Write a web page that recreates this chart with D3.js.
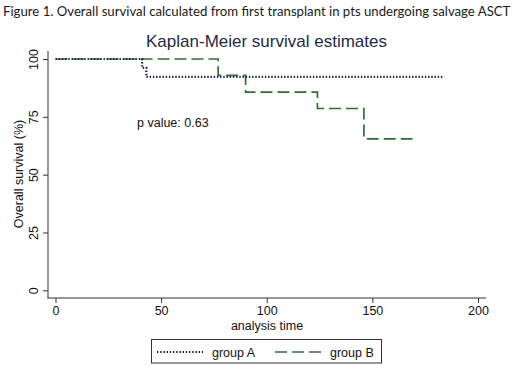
<!DOCTYPE html>
<html><head><meta charset="utf-8">
<script src="https://cdn.jsdelivr.net/npm/d3@7"></script>
<style>html,body{margin:0;padding:0;background:#fff;}svg{display:block;}</style>
</head><body>
<script>
const caption = "Figure 1. Overall survival calculated from first transplant in pts undergoing salvage ASCT";
const title = "Kaplan-Meier survival estimates";
const xTicks = [0, 50, 100, 150, 200];
const yTicks = [0, 25, 50, 75, 100];
const groupNames = ["group A", "group B"];
const groupATime = [0, 41, 43, 184];
const groupASurv = [100, 96.2, 92.3, 92.3];
const groupBTime = [0, 77, 90, 124, 146, 169];
const groupBSurv = [100, 92.9, 85.7, 78.6, 65.5, 65.5];
const pText = "p value: 0.63";

const W = 520, H = 368;
const svg = d3.select("body").append("svg").attr("width", W).attr("height", H);
const font = "'Liberation Sans', Arial, sans-serif";

const x = d3.scaleLinear().domain([0, 200]).range([55.5, 478]);
const y = d3.scaleLinear().domain([0, 100]).range([290.3, 59]);

// caption (font size fitted to the width used in the reference)
const cap = svg.append("text").attr("x", 3).attr("y", 16).attr("font-family", "Lato, 'Open Sans', sans-serif")
  .attr("font-size", 14).attr("fill", "#1a1a1a").text(caption);
const natural = cap.node().getComputedTextLength();
cap.attr("font-size", Math.min(14, 14 * 508 / natural));

// title
svg.append("text").attr("x", 266.5).attr("y", 47).attr("text-anchor", "middle")
  .attr("font-family", font).attr("font-size", 17).attr("fill", "#1f2a44").text(title);

// axis lines
svg.append("line").attr("x1", 48).attr("x2", 48).attr("y1", 51).attr("y2", 298.5).attr("stroke", "#333").attr("stroke-width", 1);
svg.append("line").attr("x1", 47.5).attr("x2", 486).attr("y1", 298).attr("y2", 298).attr("stroke", "#333").attr("stroke-width", 1);

// x axis
const gx = svg.append("g").attr("transform", "translate(0,298)")
  .call(d3.axisBottom(x).tickValues(xTicks).tickSize(5).tickPadding(3));
gx.select(".domain").remove();
gx.selectAll("line").attr("stroke", "#333");
gx.selectAll("text").attr("font-family", font).attr("font-size", 12.5).attr("fill", "#111");

// y axis
const gy = svg.append("g").attr("transform", "translate(48,0)")
  .call(d3.axisLeft(y).tickValues(yTicks).tickSize(5).tickPadding(0));
gy.select(".domain").remove();
gy.selectAll("line").attr("stroke", "#333");
gy.selectAll("text").attr("font-family", font).attr("font-size", 12.5).attr("fill", "#111")
  .attr("text-anchor", "middle").attr("x", 0).attr("dy", 0)
  .attr("transform", "translate(-10,0) rotate(-90)");

// axis titles
svg.append("text").attr("x", 267).attr("y", 330).attr("text-anchor", "middle")
  .attr("font-family", font).attr("font-size", 12.5).attr("fill", "#111").text("analysis time");
svg.append("text").attr("transform", "translate(22.5,174) rotate(-90)").attr("text-anchor", "middle")
  .attr("font-family", font).attr("font-size", 12.5).attr("fill", "#111").text("Overall survival (%)");

// curves
const line = d3.line().x(d => x(d[0])).y(d => y(d[1])).curve(d3.curveStepAfter);
const A = groupATime.map((t, i) => [t, groupASurv[i]]);
const B = groupBTime.map((t, i) => [t, groupBSurv[i]]);
const styleA = {stroke: "#1a2248", width: 2.2, dash: "1.4,1.8"};
const styleB = {stroke: "#2f6e2f", width: 1.7, dash: "12,5"};

svg.append("path").datum(B).attr("d", line).attr("fill", "none")
  .attr("stroke", styleB.stroke).attr("stroke-width", styleB.width).attr("stroke-dasharray", styleB.dash);
svg.append("path").datum(A).attr("d", line).attr("fill", "none")
  .attr("stroke", styleA.stroke).attr("stroke-width", styleA.width).attr("stroke-dasharray", styleA.dash);

// p value
svg.append("text").attr("x", 137).attr("y", 127).attr("font-family", font).attr("font-size", 12.5)
  .attr("fill", "#111").text(pText);

// legend
svg.append("rect").attr("x", 151.5).attr("y", 339.5).attr("width", 230).attr("height", 23.5)
  .attr("fill", "#fff").attr("stroke", "#333").attr("stroke-width", 1);
const leg = [
  {x1: 157, x2: 203, tx: 212, s: styleA, name: groupNames[0]},
  {x1: 275, x2: 323, tx: 330, s: styleB, name: groupNames[1]}
];
leg.forEach(l => {
  svg.append("line").attr("x1", l.x1).attr("x2", l.x2).attr("y1", 352).attr("y2", 352)
    .attr("stroke", l.s.stroke).attr("stroke-width", l.s.width).attr("stroke-dasharray", l.s.dash);
  svg.append("text").attr("x", l.tx).attr("y", 356.5).attr("font-family", font).attr("font-size", 12.5)
    .attr("fill", "#111").text(l.name);
});
</script>
</body></html>
